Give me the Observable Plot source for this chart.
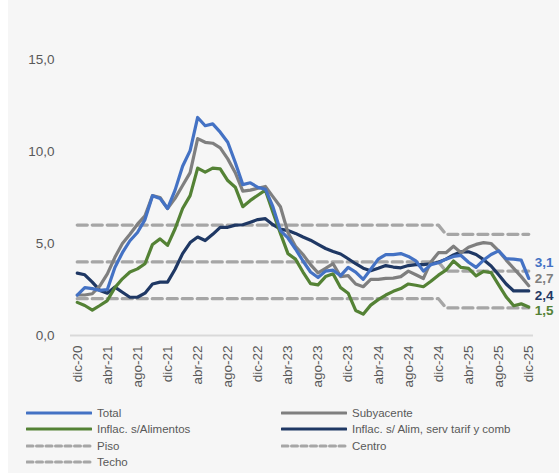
<!DOCTYPE html>
<html>
<head>
<meta charset="utf-8">
<script src="https://cdn.jsdelivr.net/npm/d3@7"></script>
<script src="https://cdn.jsdelivr.net/npm/@observablehq/plot@0.6"></script>
<style>
  html, body { margin: 0; padding: 0; background: #ffffff; }
  #frame { position: absolute; left: 8px; top: 0; width: 551px; height: 473px; background: #f6f6f6; }
  #chart { position: absolute; left: 0; top: 0; }
  #legend { position: absolute; left: 0; top: 405px; width: 559px; font-family: "Liberation Sans", Arial, sans-serif; font-size: 11.5px; color: #595959; }
  .item { position: absolute; display: flex; align-items: center; height: 16px; white-space: nowrap; }
  .item svg { margin-right: 5px; }
</style>
</head>
<body>
<div id="frame"></div>
<div id="chart"></div>
<div id="legend"></div>
<script>
// Months from dic-20 to dic-25
const monthNames = ["ene","feb","mar","abr","may","jun","jul","ago","sep","oct","nov","dic"];
const months = ["dic-20"];
for (let yr = 21; yr <= 25; yr++) for (const m of monthNames) months.push(m + "-" + yr);

const tickLabels = ["dic-20","abr-21","ago-21","dic-21","abr-22","ago-22","dic-22","abr-23","ago-23","dic-23","abr-24","ago-24","dic-24","abr-25","ago-25","dic-25"];
const yTicks = [0, 5, 10, 15];

const total = [2.2,2.6,2.55,2.45,2.5,3.7,4.5,5.15,5.6,6.3,7.6,7.45,6.9,7.9,9.2,10.05,11.85,11.4,11.5,11.05,10.5,9.4,8.2,8.3,8.05,7.95,7.0,5.7,5.3,4.7,4.05,3.45,3.15,3.5,3.55,3.25,3.7,3.45,3.05,3.6,4.15,4.4,4.4,4.45,4.3,4.05,3.5,3.85,3.95,4.15,4.3,4.35,3.98,3.7,4.1,4.4,4.6,4.17,4.15,4.1,3.1];
const subyacente = [2.2,2.2,2.27,2.7,3.35,4.25,5.0,5.5,6.05,6.5,7.6,7.5,6.9,7.45,8.15,8.85,10.7,10.5,10.45,10.2,9.6,8.85,7.85,7.9,8.0,8.1,7.55,7.0,5.6,4.85,4.4,3.85,3.4,3.65,3.9,3.2,3.25,2.8,2.65,3.05,3.05,3.1,3.12,3.2,3.5,3.3,3.1,4.0,4.5,4.5,4.85,4.5,4.8,4.95,5.05,5.0,4.6,4.1,3.65,3.2,2.7];
const sinAlimentos = [1.8,1.63,1.38,1.63,1.9,2.6,3.08,3.45,3.62,3.9,4.95,5.25,4.9,5.8,6.9,7.6,9.1,8.88,9.1,9.06,8.42,8.06,7.0,7.34,7.62,7.9,6.7,5.55,4.45,4.15,3.45,2.82,2.75,3.2,3.35,2.6,2.3,1.36,1.16,1.65,1.95,2.2,2.4,2.55,2.8,2.73,2.65,2.95,3.28,3.55,4.05,3.7,3.65,3.24,3.48,3.42,2.75,2.1,1.62,1.72,1.55];
const sinAlimServ = [3.39,3.3,2.9,2.45,2.3,2.63,2.35,2.08,2.08,2.3,2.8,2.9,2.9,3.6,4.45,5.05,5.35,5.16,5.5,5.88,5.88,6.0,6.02,6.16,6.3,6.35,6.02,5.78,5.7,5.55,5.35,5.18,4.95,4.73,4.57,4.43,4.17,3.9,3.66,3.52,3.65,3.8,3.72,3.68,3.8,3.85,3.85,3.9,3.98,4.15,4.38,4.55,4.55,4.4,4.12,3.78,3.3,2.8,2.42,2.42,2.42];

// Target band: 4 ± 2 through dic-24, 3.5 ± 2 from ene-25
const centroAntes = 4.0, centroDespues = 3.5, rango = 2.0;
const cambioMes = "ene-25";

const seriesNames = ["Total","Subyacente","Inflac. s/Alimentos","Inflac. s/ Alim, serv tarif y comb","Piso","Centro","Techo"];
const endLabels = ["3,1","2,7","2,4","1,5"];

const colors = {
  "Total": "#4472C4",
  "Subyacente": "#7F7F7F",
  "Inflac. s/Alimentos": "#548235",
  "Inflac. s/ Alim, serv tarif y comb": "#1F3864",
  "band": "#A6A6A6"
};

const idxCambio = months.indexOf(cambioMes);
const centro = months.map((m, i) => i < idxCambio ? centroAntes : centroDespues);
const rows = (name, vals) => months.map((m, i) => ({series: name, month: m, value: vals[i]}));
const bandRows = [
  ...rows("Piso", centro.map(c => c - rango)),
  ...rows("Centro", centro),
  ...rows("Techo", centro.map(c => c + rango))
];
const lineRows = [
  ...rows("Total", total),
  ...rows("Subyacente", subyacente),
  ...rows("Inflac. s/Alimentos", sinAlimentos),
  ...rows("Inflac. s/ Alim, serv tarif y comb", sinAlimServ)
];
const last = months[months.length - 1];
const fmt = d => d.toFixed(1).replace(".", ",");

const labelSpecs = [
  {series: "Total", value: total.at(-1), text: endLabels[0], dy: -16},
  {series: "Subyacente", value: subyacente.at(-1), text: endLabels[1], dy: -7},
  {series: "Inflac. s/ Alim, serv tarif y comb", value: sinAlimServ.at(-1), text: endLabels[2], dy: 5},
  {series: "Inflac. s/Alimentos", value: sinAlimentos.at(-1), text: endLabels[3], dy: 4}
];

const chart = Plot.plot({
  width: 559,
  height: 395,
  marginLeft: 73,
  marginRight: 27,
  marginTop: 59,
  marginBottom: 60,
  style: {background: "transparent", color: "#595959", fontFamily: "'Liberation Sans', Arial, sans-serif", overflow: "visible"},
  x: {type: "point", domain: months, axis: null, label: null},
  y: {domain: [0, 15], axis: null, label: null},
  marks: [
    Plot.ruleY([0], {stroke: "#D9D9D9", strokeWidth: 2, insetLeft: -3, insetRight: -1}),
    Plot.axisY({ticks: yTicks, tickSize: 0, tickPadding: 19, tickFormat: fmt, fontSize: 13.5, label: null}),
    Plot.axisX({ticks: tickLabels, tickSize: 0, tickPadding: 10, tickRotate: -90, fontSize: 13.5, label: null}),
    Plot.line(bandRows, {x: "month", y: "value", z: "series", stroke: colors.band, strokeWidth: 3.3, strokeDasharray: "10,5", curve: "linear"}),
    ...["Inflac. s/ Alim, serv tarif y comb", "Inflac. s/Alimentos", "Subyacente", "Total"].map(name =>
      Plot.line(lineRows.filter(d => d.series === name), {x: "month", y: "value", stroke: colors[name], strokeWidth: 3.2, strokeLinejoin: "round"})
    ),
    ...labelSpecs.map(s =>
      Plot.text([s], {x: () => last, y: "value", text: "text", fill: colors[s.series], dx: 6, dy: s.dy, textAnchor: "start", fontWeight: "bold", fontSize: 13.5})
    )
  ]
});
document.getElementById("chart").appendChild(chart);

// Legend
const legendItems = [
  {name: seriesNames[0], color: colors["Total"], dash: null, col: 0, row: 0},
  {name: seriesNames[1], color: colors["Subyacente"], dash: null, col: 1, row: 0},
  {name: seriesNames[2], color: colors["Inflac. s/Alimentos"], dash: null, col: 0, row: 1},
  {name: seriesNames[3], color: colors["Inflac. s/ Alim, serv tarif y comb"], dash: null, col: 1, row: 1},
  {name: seriesNames[4], color: colors.band, dash: "6,3.5", col: 0, row: 2},
  {name: seriesNames[5], color: colors.band, dash: "6,3.5", col: 1, row: 2},
  {name: seriesNames[6], color: colors.band, dash: "6,3.5", col: 0, row: 3}
];
const legend = document.getElementById("legend");
for (const it of legendItems) {
  const div = document.createElement("div");
  div.className = "item";
  div.style.left = (it.col ? 281 : 26) + "px";
  div.style.top = (it.row * 16.3) + "px";
  div.innerHTML = `<svg width="66" height="6"><line x1="1" x2="65" y1="3" y2="3" stroke="${it.color}" stroke-width="3" ${it.dash ? `stroke-dasharray="${it.dash}" stroke-linecap="round"` : 'stroke-linecap="round"'}></line></svg><span>${it.name}</span>`;
  legend.appendChild(div);
}
</script>
</body>
</html>
